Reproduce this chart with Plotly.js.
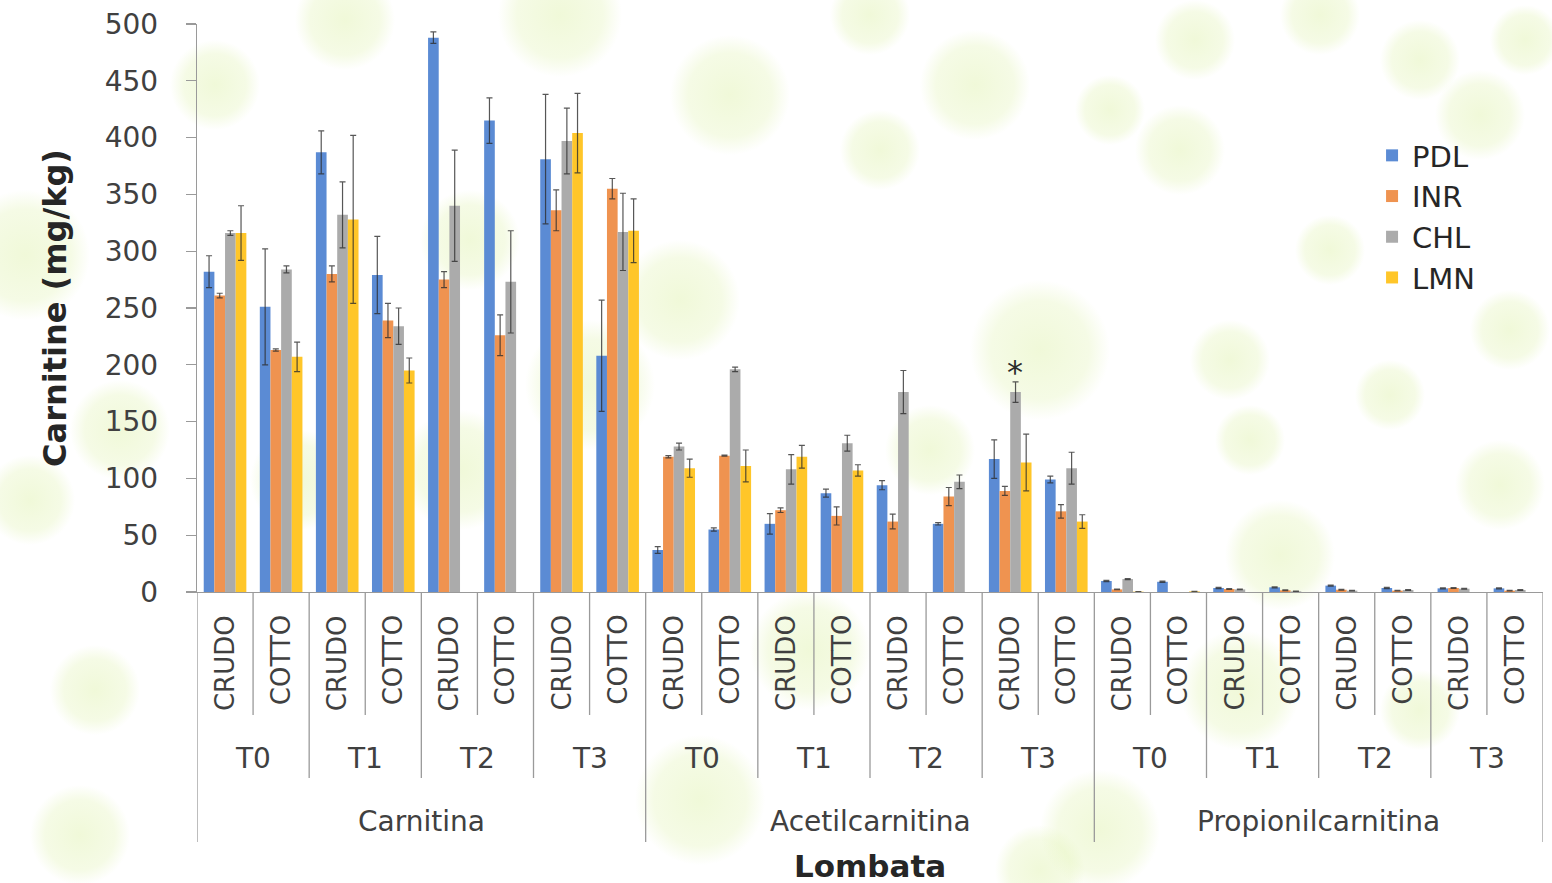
<!DOCTYPE html>
<html>
<head>
<meta charset="utf-8">
<script src="https://cdn.plot.ly/plotly-3.0.1.min.js"></script>
<style>
  html, body { margin: 0; padding: 0; background: #ffffff; }
  #chart { width: 1552px; height: 883px; }
</style>
</head>
<body>
<div id="chart"></div>
<script>
// Carnitine content in lombata: three compounds, four sampling times, raw vs cooked
const groups = ['Carnitina', 'Acetilcarnitina', 'Propionilcarnitina'];
const times = ['T0', 'T1', 'T2', 'T3'];
const states = ['CRUDO', 'COTTO'];
const seriesNames = ['PDL', 'INR', 'CHL', 'LMN'];

// mg/kg, 24 values per series: group > time > state
const PDL = [282, 251, 387, 279, 488, 415, 381, 208,
             37, 55, 60, 87, 94, 60, 117, 99,
             9.7, 9, 3.5, 4.1, 5.6, 3.5, 3.2, 3.2];
const PDL_err = [14, 51, 19, 34, 5, 20, 57, 49,
                 3, 1.5, 9, 3.5, 4, 1, 17, 3,
                 0.5, 0.5, 0.5, 0.5, 0.5, 0.5, 0.5, 0.5];
const INR = [261, 213, 280, 239, 275, 226, 336, 355,
             119, 120, 72, 67, 62, 84, 89, 71,
             2.3, null, 2.6, 1.5, 2, 1.2, 3.5, 1.2];
const INR_err = [2, 1, 7, 15, 7, 18, 18, 9,
                 1, 0.5, 2, 8, 6.5, 8, 4, 6,
                 0.3, null, 0.3, 0.3, 0.3, 0.3, 0.3, 0.3];
const CHL = [316, 284, 332, 234, 340, 273, 397, 317,
             128, 196, 108, 131, 176, 97, 176, 109,
             11.4, null, 2.3, 0.6, 1.2, 1.8, 2.9, 1.8];
const CHL_err = [2, 3, 29, 16, 49, 45, 29, 34,
                 3, 2, 13, 7, 19, 6, 9, 14,
                 0.5, null, 0.3, 0.2, 0.3, 0.3, 0.3, 0.3];
const LMN = [316, 207, 328, 195, null, null, 404, 318,
             109, 111, 119, 107, null, null, 114, 62,
             0.3, 0.5, null, null, null, null, null, null];
const LMN_err = [24, 13, 74, 11, null, null, 35, 28,
                 8, 14, 10, 5, null, null, 25, 6,
                 0.1, 0.1, null, null, null, null, null, null];

const seriesValues = [PDL, INR, CHL, LMN];
const seriesErrors = [PDL_err, INR_err, CHL_err, LMN_err];
const seriesColors = ['#5b8bd4', '#ef9350', '#ababab', '#ffc629'];

// index of the bar marked as significant (Acetilcarnitina, T3, CRUDO, CHL)
const starCategory = 14;
const starSeries = 2;

// soft green background spots: [x, y, radius] in px
const spots = [
  [345,20,50],[560,15,62],[870,15,40],[730,95,60],[975,85,55],[1195,40,40],
  [1320,15,40],[1480,115,45],[1525,40,35],[215,85,45],[25,255,65],[120,430,50],
  [95,690,45],[80,835,50],[300,480,50],[470,240,50],[460,470,60],[590,385,65],
  [680,300,60],[810,650,60],[700,800,65],[1040,350,70],[1230,360,40],[1280,555,55],
  [1240,690,60],[1100,830,60],[1040,870,45],[1500,485,45],[1390,395,35],
  [1420,710,40],[930,450,45],[1180,150,45],[1420,60,40],[30,500,45],[1250,440,35],
  [880,150,40],[1110,110,35],[1510,330,40],[1330,250,35]
];
document.body.style.backgroundImage = spots.map(([x, y, r]) =>
  `radial-gradient(circle at ${x}px ${y}px, rgba(222,241,170,0.45) 0px, rgba(226,243,180,0.34) ${Math.round(r*0.7)}px, rgba(230,245,190,0) ${r}px)`
).join(',');
document.body.style.backgroundRepeat = 'no-repeat';
document.body.style.backgroundSize = '1552px 883px';

// category keys
const cats = [];
groups.forEach(g => times.forEach(t => states.forEach(s => cats.push(`${g}|${t}|${s}`))));

const traces = seriesNames.map((name, k) => ({
  type: 'bar',
  name: name,
  x: cats,
  y: seriesValues[k],
  marker: { color: seriesColors[k] },
  error_y: {
    type: 'data',
    array: seriesErrors[k],
    visible: true,
    color: 'rgba(45,45,45,0.8)',
    thickness: 1.2,
    width: 3
  },
  hoverinfo: 'x+y'
}));

// plot area geometry (px) for converting below-axis positions into paper units
const plotTop = 24, plotBottom = 592, plotHeight = plotBottom - plotTop;
const py = p => (plotBottom - p) / plotHeight;

const labelFont = { family: 'DejaVu Sans, Verdana, sans-serif', color: '#404040' };
const annotations = [];
const shapes = [];

cats.forEach((c, i) => {
  const [g, t, s] = c.split('|');
  annotations.push({
    xref: 'x', yref: 'paper', x: i, y: py(613),
    text: s, textangle: -90, showarrow: false,
    xanchor: 'center', yanchor: 'top',
    font: Object.assign({ size: 26 }, labelFont)
  });
});
groups.forEach((g, gi) => {
  times.forEach((t, ti) => {
    annotations.push({
      xref: 'x', yref: 'paper', x: gi * 8 + ti * 2 + 0.5, y: py(758),
      text: t, showarrow: false, xanchor: 'center', yanchor: 'middle',
      font: Object.assign({ size: 28 }, labelFont)
    });
  });
  annotations.push({
    xref: 'x', yref: 'paper', x: gi * 8 + 3.5, y: py(821),
    text: g, showarrow: false, xanchor: 'center', yanchor: 'middle',
    font: Object.assign({ size: 28 }, labelFont)
  });
});

// separators below the baseline: state, time and compound levels
for (let b = 0; b <= cats.length; b++) {
  let end;
  if (b % 8 === 0) end = 842;
  else if (b % 2 === 0) end = 778;
  else end = 715;
  shapes.push({
    type: 'line', xref: 'x', yref: 'paper',
    x0: b - 0.5, x1: b - 0.5, y0: 0, y1: py(end),
    line: { color: '#9a9a9a', width: 1.3 }
  });
}

// significance marker
annotations.push({
  xref: 'x', yref: 'y',
  x: starCategory - 0.375 + 0.1875 * starSeries + 0.094,
  y: CHL[starCategory] + CHL_err[starCategory],
  text: '*', showarrow: false, xanchor: 'center', yanchor: 'bottom',
  yshift: -11,
  font: { family: 'DejaVu Sans, sans-serif', size: 32, color: '#2a2a2a' }
});

// x axis title
annotations.push({
  xref: 'paper', yref: 'paper', x: 0.5, y: py(866),
  text: '<b>Lombata</b>', showarrow: false, xanchor: 'center', yanchor: 'middle',
  font: { family: 'DejaVu Sans, sans-serif', size: 31, color: '#262626' }
});

const layout = {
  width: 1552,
  height: 883,
  margin: { l: 197, r: 9, t: plotTop, b: 883 - plotBottom },
  paper_bgcolor: 'rgba(0,0,0,0)',
  plot_bgcolor: 'rgba(0,0,0,0)',
  barmode: 'group',
  bargap: 0.24,
  bargroupgap: 0,
  showlegend: true,
  legend: {
    x: 0.873, y: py(130), xanchor: 'left', yanchor: 'top',
    bgcolor: 'rgba(0,0,0,0)',
    font: { family: 'DejaVu Sans, sans-serif', size: 29, color: '#262626' },
    itemwidth: 30
  },
  xaxis: {
    type: 'category',
    range: [-0.5, cats.length - 0.5],
    showticklabels: false,
    ticks: '',
    showgrid: false,
    zeroline: false,
    showline: true,
    linecolor: '#9a9a9a',
    linewidth: 1.3,
    fixedrange: true
  },
  yaxis: {
    title: {
      text: '<b>Carnitine (mg/kg)</b>',
      font: { family: 'DejaVu Sans, sans-serif', size: 32, color: '#262626' },
      standoff: 28
    },
    range: [0, 500],
    dtick: 50,
    tick0: 0,
    ticks: 'outside',
    ticklen: 10,
    tickcolor: '#9a9a9a',
    tickwidth: 1.3,
    ticklabelstandoff: 22,
    tickfont: { family: 'DejaVu Sans, Verdana, sans-serif', size: 28, color: '#404040' },
    showgrid: false,
    zeroline: false,
    showline: true,
    linecolor: '#9a9a9a',
    linewidth: 1.3,
    fixedrange: true
  },
  annotations: annotations,
  shapes: shapes
};

Plotly.newPlot('chart', traces, layout, { displayModeBar: false, staticPlot: true });
</script>
</body>
</html>
